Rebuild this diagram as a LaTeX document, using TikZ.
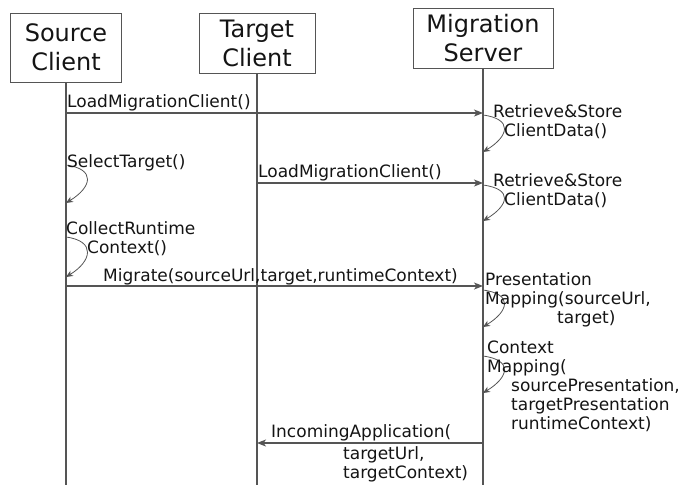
\documentclass[tikz,border=0pt]{standalone}
\usepackage{fontspec}
\setmainfont{DejaVu Sans}
\usetikzlibrary{positioning,arrows,arrows.meta}
\definecolor{colorline}{RGB}{85,85,85}
\definecolor{colortext}{RGB}{20,20,20}

\begin{document}
\begin{tikzpicture}[
    x=1pt, y=-1pt,
    actor/.style={draw=colorline,line width=1pt,text=colortext,font={\fontsize{24}{29}\selectfont},align=center,inner sep=0pt},
    lifeline/.style={colorline,line width=1.2pt},
    message/.style={-{Stealth[length=9pt,width=7pt,inset=2.5pt]},colorline,line width=1.2pt},
    selfcall/.style={-{Stealth[length=7pt,width=6pt,inset=2pt]},colorline,line width=0.8pt},
    call/.style={anchor=base west,inner sep=0pt,align=left,text=colortext,font={\fontsize{17}{19}\selectfont}},
]
    \useasboundingbox (0,0) rectangle (695,485);

    % Actors
    \node[actor, minimum width=111pt, minimum height=69pt] (source) at (66,47.5) {Source\\Client};
    \node[actor, minimum width=116pt, minimum height=60pt] (target) at (257,43) {Target\\Client};
    \node[actor, minimum width=140pt, minimum height=60pt] (server) at (483,38) {Migration\\Server};

    % Lifelines
    \coordinate (sourceEnd) at (source |- 0,485);
    \coordinate (targetEnd) at (target |- 0,485);
    \coordinate (serverEnd) at (server |- 0,485);
    \draw[lifeline] (source) -- (sourceEnd);
    \draw[lifeline] (target) -- (targetEnd);
    \draw[lifeline] (server) -- (serverEnd);

    % Messages (labels sit on the baseline of their last line)
    \coordinate (loadSourceFrom) at (source |- 0,113);
    \coordinate (loadSourceTo)   at (server |- 0,113);
    \draw[message] (loadSourceFrom) -- (loadSourceTo);
    \node[call] (loadSource) at (67,107) {LoadMigrationClient()};

    \coordinate (loadTargetFrom) at (target |- 0,183);
    \coordinate (loadTargetTo)   at (server |- 0,183);
    \draw[message] (loadTargetFrom) -- (loadTargetTo);
    \node[call] (loadTarget) at (258,177) {LoadMigrationClient()};

    \coordinate (migrateFrom) at (source |- 0,286);
    \coordinate (migrateTo)   at (server |- 0,286);
    \draw[message] (migrateFrom) -- (migrateTo);
    \node[call] (migrate) at (103,281) {Migrate(sourceUrl,target,runtimeContext)};

    \coordinate (incomingFrom) at (server |- 0,443);
    \coordinate (incomingTo)   at (target |- 0,443);
    \draw[message] (incomingFrom) -- (incomingTo);
    \node[call] (incoming) at (271,437) {IncomingApplication(};
    \node[call] (incomingArgs) at (343,478) {targetUrl,\\targetContext)};

    % Self calls
    \coordinate (storeOneTop) at (server |- 0,115);
    \coordinate (storeOneBot) at (server |- 0,152);
    \draw[selfcall] (storeOneTop) .. controls +(30,4) and +(26,-16) .. (storeOneBot);
    \node[call] (storeOne) at (493,136) {Retrieve\&Store\\\hspace*{11pt}ClientData()};

    \coordinate (storeTwoTop) at (server |- 0,185);
    \coordinate (storeTwoBot) at (server |- 0,221);
    \draw[selfcall] (storeTwoTop) .. controls +(30,4) and +(26,-16) .. (storeTwoBot);
    \node[call] (storeTwo) at (493,205) {Retrieve\&Store\\\hspace*{11pt}ClientData()};

    \coordinate (selectTop) at (source |- 0,165);
    \coordinate (selectBot) at (source |- 0,203);
    \draw[selfcall] (selectTop) .. controls +(30,4) and +(26,-16) .. (selectBot);
    \node[call] (select) at (67,167) {SelectTarget()};

    \coordinate (collectTop) at (source |- 0,237);
    \coordinate (collectBot) at (source |- 0,277);
    \draw[selfcall] (collectTop) .. controls +(30,4) and +(26,-16) .. (collectBot);
    \node[call] (collect) at (66,253) {CollectRuntime\\\hspace*{21pt}Context()};

    \coordinate (presentTop) at (server |- 0,290);
    \coordinate (presentBot) at (server |- 0,327);
    \draw[selfcall] (presentTop) .. controls +(30,4) and +(26,-16) .. (presentBot);
    \node[call] (present) at (485,323) {Presentation\\Mapping(sourceUrl,\\\hspace*{72pt}target)};

    \coordinate (contextTop) at (server |- 0,356);
    \coordinate (contextBot) at (server |- 0,393);
    \draw[selfcall] (contextTop) .. controls +(30,4) and +(26,-16) .. (contextBot);
    \node[call] (context) at (487,429) {Context\\Mapping(\\\hspace*{24pt}sourcePresentation,\\\hspace*{24pt}targetPresentation\\\hspace*{24pt}runtimeContext)};

\end{tikzpicture}
\end{document}
